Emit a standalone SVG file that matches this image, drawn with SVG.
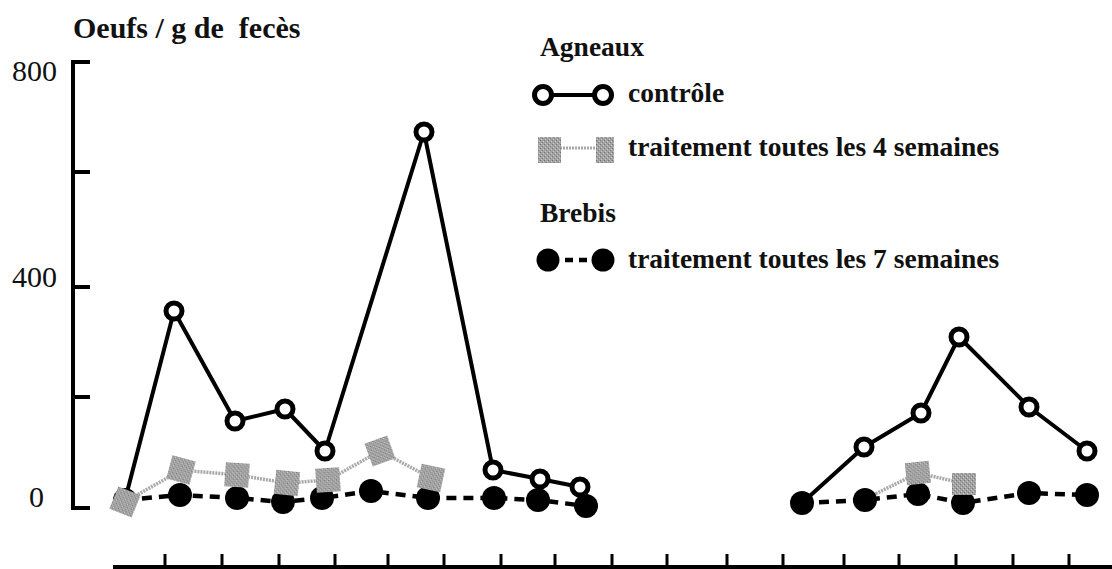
<svg xmlns="http://www.w3.org/2000/svg" width="1112" height="569" viewBox="0 0 1112 569">
<style>
.t{font-family:"Liberation Serif","Times New Roman",serif;font-weight:bold;font-size:27.5px;fill:#111}
.n{font-family:"Liberation Serif","Times New Roman",serif;font-size:30px;fill:#111}
.ax{stroke:#000;stroke-width:4;fill:none;stroke-linecap:butt}
.ctl{stroke:#000;stroke-width:4;fill:none;stroke-linejoin:round}
.oc{fill:#fff;stroke:#000;stroke-width:5}
.dsh{stroke:#000;stroke-width:4.5;fill:none;stroke-dasharray:10 7}
.fc{fill:#000}
.gl{stroke:#a8a8a8;stroke-width:3.5;fill:none;stroke-dasharray:2 1}
.sq{fill:url(#grain)}
</style>
<defs>
<pattern id="grain" width="4" height="4" patternUnits="userSpaceOnUse">
<rect width="4" height="4" fill="#a2a2a2"/>
<rect x="0" y="0" width="1" height="1" fill="#707070"/>
<rect x="2" y="2" width="1" height="1" fill="#808080"/>
<rect x="1" y="3" width="1" height="1" fill="#c8c8c8"/>
<rect x="3" y="1" width="1" height="1" fill="#cfcfcf"/>
</pattern>
</defs>
<rect width="1112" height="569" fill="#fff"/>

<g id="title"><text class="t" x="73" y="38" style="font-size:30px" xml:space="preserve">Oeufs / g de  fecès</text></g>

<g id="y-axis">
<path class="ax" d="M73,62 V508 M71,62 H90 M73,172 H90 M73,287 H90 M73,397 H90 M71,508 H90"/>
<text class="n" x="12" y="81">800</text>
<text class="n" x="12" y="287">400</text>
<text class="n" x="29" y="507">0</text>
</g>

<g id="x-axis">
<path class="ax" d="M113,567 H1112"/>
<path class="ax" style="stroke-width:3" d="M165,554V567 M222,554V567 M279,554V567 M335,554V567 M388,554V567 M444,554V567 M501,554V567 M555,554V567 M612,554V567 M667,554V567 M727,554V567 M783,554V567 M844,554V567 M899,554V567 M956,554V567 M1013,554V567 M1069,554V567"/>
</g>

<g id="connectors">
<polyline class="dsh" points="125,500 180,495 237,498 283,502 322,498 371,491 428,498 494,498 538,500 586,506"/>
<polyline class="dsh" points="802,503 865,500 918,494 963,503 1029,493 1087,495"/>
<polyline class="ctl" points="125,500 174,311 235,421 285,409 325,451 424,132 493,470 540,479 580,487"/>
<polyline class="ctl" points="802,503 864,447 921,413 959,337 1029,407 1087,451"/>
<polyline class="gl" points="125,502 181,470 237,475 287,483 328,480 380,451 431,478"/>
<polyline class="gl" points="865,499 918,473 962,483"/>
</g>

<g id="brebis-7sem">
<circle class="fc" cx="125" cy="500" r="12"/>
<circle class="fc" cx="180" cy="495" r="12"/>
<circle class="fc" cx="237" cy="498" r="12"/>
<circle class="fc" cx="283" cy="502" r="12"/>
<circle class="fc" cx="322" cy="498" r="12"/>
<circle class="fc" cx="371" cy="491" r="12"/>
<circle class="fc" cx="428" cy="498" r="12"/>
<circle class="fc" cx="494" cy="498" r="12"/>
<circle class="fc" cx="538" cy="500" r="12"/>
<circle class="fc" cx="586" cy="506" r="12"/>
<circle class="fc" cx="802" cy="503" r="12"/>
<circle class="fc" cx="865" cy="500" r="12"/>
<circle class="fc" cx="918" cy="494" r="12"/>
<circle class="fc" cx="963" cy="503" r="12"/>
<circle class="fc" cx="1029" cy="493" r="12"/>
<circle class="fc" cx="1087" cy="495" r="12"/>
</g>

<g id="controle">
<circle class="oc" cx="174" cy="311" r="8"/>
<circle class="oc" cx="235" cy="421" r="8"/>
<circle class="oc" cx="285" cy="409" r="8"/>
<circle class="oc" cx="325" cy="451" r="8"/>
<circle class="oc" cx="424" cy="132" r="8"/>
<circle class="oc" cx="493" cy="470" r="8"/>
<circle class="oc" cx="540" cy="479" r="8"/>
<circle class="oc" cx="580" cy="487" r="8"/>
<circle class="oc" cx="864" cy="447" r="8"/>
<circle class="oc" cx="921" cy="413" r="8"/>
<circle class="oc" cx="959" cy="337" r="8"/>
<circle class="oc" cx="1029" cy="407" r="8"/>
<circle class="oc" cx="1087" cy="451" r="8"/>
</g>

<g id="traitement-4sem">
<rect class="sq" x="-12" y="-12" width="24" height="24" transform="translate(125,502) rotate(22)"/>
<rect class="sq" x="-12" y="-12" width="24" height="24" transform="translate(181,470) rotate(15)"/>
<rect class="sq" x="-12" y="-12" width="24" height="24" transform="translate(237,475) rotate(4)"/>
<rect class="sq" x="-12" y="-12" width="24" height="24" transform="translate(287,483) rotate(6)"/>
<rect class="sq" x="-12" y="-12" width="24" height="24" transform="translate(328,480) rotate(-4)"/>
<rect class="sq" x="-12" y="-12" width="24" height="24" transform="translate(380,451) rotate(-20)"/>
<rect class="sq" x="-12" y="-12" width="24" height="24" transform="translate(431,478) rotate(12)"/>
<rect class="sq" x="-12" y="-12" width="24" height="22" transform="translate(918,474) rotate(-6)"/>
<rect class="sq" x="-12" y="-11" width="24" height="22" transform="translate(964,484)"/>
</g>

<g id="legend">
<text class="t" x="540" y="56">Agneaux</text>
<line x1="543" y1="95" x2="603" y2="95" stroke="#000" stroke-width="4"/>
<circle class="oc" cx="543" cy="95" r="8.5"/>
<circle class="oc" cx="603" cy="95" r="8.5"/>
<text class="t" x="628" y="102">contrôle</text>
<line x1="560" y1="148" x2="597" y2="148" stroke="#a8a8a8" stroke-width="3" stroke-dasharray="2 1"/>
<rect class="sq" x="538" y="137" width="23" height="26"/>
<rect class="sq" x="596" y="137" width="18" height="26"/>
<text class="t" x="628" y="156">traitement toutes les 4 semaines</text>
<text class="t" x="540" y="222">Brebis</text>
<line x1="548" y1="260" x2="603" y2="260" stroke="#000" stroke-width="4.5" stroke-dasharray="8 6" stroke-dashoffset="-3"/>
<circle class="fc" cx="548" cy="260" r="11.5"/>
<circle class="fc" cx="603" cy="260" r="11.5"/>
<text class="t" x="628" y="268">traitement toutes les 7 semaines</text>
</g>
</svg>
